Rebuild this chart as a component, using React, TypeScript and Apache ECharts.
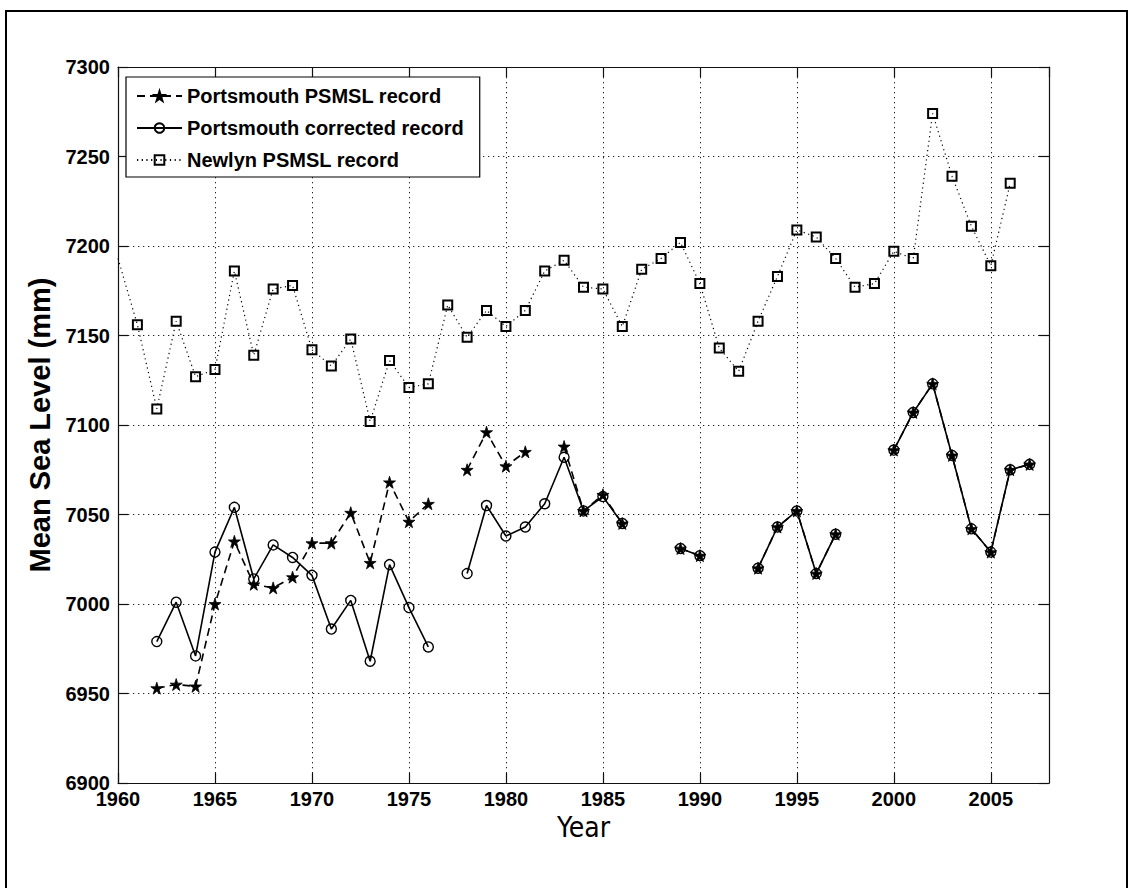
import React, { useEffect, useRef } from "react";
import * as echarts from "echarts";

const years = [
  1960, 1961, 1962, 1963, 1964, 1965, 1966, 1967, 1968, 1969,
  1970, 1971, 1972, 1973, 1974, 1975, 1976, 1977, 1978, 1979,
  1980, 1981, 1982, 1983, 1984, 1985, 1986, 1987, 1988, 1989,
  1990, 1991, 1992, 1993, 1994, 1995, 1996, 1997, 1998, 1999,
  2000, 2001, 2002, 2003, 2004, 2005, 2006, 2007,
];

const psmslValues: (number | null)[] = [
  null, null, 6953, 6955, 6954, 7000, 7035, 7011, 7009, 7015,
  7034, 7034, 7051, 7023, 7068, 7046, 7056, null, 7075, 7096,
  7077, 7085, null, 7088, 7052, 7061, 7045, null, null, 7031,
  7027, null, null, 7020, 7043, 7052, 7017, 7039, null, null,
  7086, 7107, 7123, 7083, 7042, 7029, 7075, 7078,
];

const correctedValues: (number | null)[] = [
  null, null, 6979, 7001, 6971, 7029, 7054, 7014, 7033, 7026,
  7016, 6986, 7002, 6968, 7022, 6998, 6976, null, 7017, 7055,
  7038, 7043, 7056, 7082, 7052, 7060, 7045, null, null, 7031,
  7027, null, null, 7020, 7043, 7052, 7017, 7039, null, null,
  7086, 7107, 7123, 7083, 7042, 7029, 7075, 7078,
];

const newlynValues: (number | null)[] = [
  7193, 7156, 7109, 7158, 7127, 7131, 7186, 7139, 7176, 7178,
  7142, 7133, 7148, 7102, 7136, 7121, 7123, 7167, 7149, 7164,
  7155, 7164, 7186, 7192, 7177, 7176, 7155, 7187, 7193, 7202,
  7179, 7143, 7130, 7158, 7183, 7209, 7205, 7193, 7177, 7179,
  7197, 7193, 7274, 7239, 7211, 7189, 7235, null,
];

const seriesNames = [
  "Portsmouth PSMSL record",
  "Portsmouth corrected record",
  "Newlyn PSMSL record",
];

const xMin = 1960;
const xMax = 2008;
const xStep = 5;
const yMin = 6900;
const yMax = 7300;
const yStep = 50;

const SANS = "'Liberation Sans', Arial, Helvetica, sans-serif";
const COND = "'DejaVu Sans Condensed', 'Liberation Sans', sans-serif";

const STAR =
  "path://M50,0 L61,35 L98,35 L68,57 L79,91 L50,70 L21,91 L32,57 L2,35 L39,35 Z";

function toData(vals: (number | null)[], hideFirstMarker = false) {
  return years.map((y, i) => {
    const v = vals[i];
    if (v == null) return [y, "-"];
    if (hideFirstMarker && i === 0) return { value: [y, v], symbol: "none" };
    return [y, v];
  });
}

export default function App() {
  const ref = useRef<HTMLDivElement>(null);
  useEffect(() => {
    document.body.style.margin = "0";
    const chart = echarts.init(ref.current!, null, { renderer: "svg" });
    const axisLine = { show: true, lineStyle: { color: "#111", width: 1.2 } };
    const gridLine = { show: true, lineStyle: { color: "#222", width: 1, type: [1.3, 3.7] } };
    const tickStyle = { show: true, inside: true, length: 10, lineStyle: { color: "#111", width: 1.2 } };
    const tickFont = { fontFamily: SANS, fontWeight: "bold", fontSize: 20, color: "#000" };
    chart.setOption({
      animation: false,
      backgroundColor: "#fff",
      grid: { left: 118, right: 80, top: 67, bottom: 105, containLabel: false },
      graphic: [
        {
          type: "rect",
          shape: { x: 6, y: 11, width: 1121, height: 895 },
          style: { fill: "none", stroke: "#000", lineWidth: 2 },
          silent: true,
        },
      ],
      xAxis: [
        {
          type: "value",
          min: xMin,
          max: xMax,
          interval: xStep,
          position: "bottom",
          axisLine,
          axisTick: tickStyle,
          splitLine: gridLine,
          axisLabel: { ...tickFont, margin: 6, showMaxLabel: false, formatter: (v: number) => String(v) },
          name: "Year",
          nameLocation: "middle",
          nameGap: 30,
          nameTextStyle: { fontFamily: COND, fontSize: 28, color: "#000" },
        },
        {
          type: "value",
          min: xMin,
          max: xMax,
          interval: xStep,
          position: "top",
          axisLine,
          axisTick: tickStyle,
          splitLine: { show: false },
          axisLabel: { show: false },
        },
      ],
      yAxis: [
        {
          type: "value",
          min: yMin,
          max: yMax,
          interval: yStep,
          position: "left",
          axisLine,
          axisTick: tickStyle,
          splitLine: gridLine,
          axisLabel: { ...tickFont, margin: 8, formatter: (v: number) => String(v) },
          name: "Mean Sea Level (mm)",
          nameLocation: "middle",
          nameRotate: 90,
          nameGap: 29,
          nameTextStyle: { fontFamily: SANS, fontWeight: "bold", fontSize: 29, color: "#000" },
        },
        {
          type: "value",
          min: yMin,
          max: yMax,
          interval: yStep,
          position: "right",
          axisLine,
          axisTick: tickStyle,
          splitLine: { show: false },
          axisLabel: { show: false },
        },
      ],
      legend: {
        orient: "vertical",
        left: 126,
        top: 77,
        itemWidth: 45,
        itemHeight: 12,
        itemGap: 12,
        padding: [9, 16, 7, 10],
        borderColor: "#000",
        borderWidth: 1.2,
        backgroundColor: "#fff",
        textStyle: { fontFamily: SANS, fontWeight: "bold", fontSize: 20, color: "#000" },
        data: seriesNames,
      },
      series: [
        {
          name: seriesNames[0],
          type: "line",
          xAxisIndex: 0,
          yAxisIndex: 0,
          data: toData(psmslValues),
          symbol: STAR,
          symbolSize: 12,
          showAllSymbol: true,
          connectNulls: false,
          lineStyle: { color: "#000", width: 1.6, type: [8, 5] },
          itemStyle: { color: "#000", borderColor: "#000", borderWidth: 0.8 },
        },
        {
          name: seriesNames[1],
          type: "line",
          xAxisIndex: 0,
          yAxisIndex: 0,
          data: toData(correctedValues),
          symbol: "circle",
          symbolSize: 10,
          showAllSymbol: true,
          connectNulls: false,
          lineStyle: { color: "#000", width: 1.6, type: "solid" },
          itemStyle: { color: "rgba(255,255,255,0)", borderColor: "#000", borderWidth: 1.4 },
        },
        {
          name: seriesNames[2],
          type: "line",
          xAxisIndex: 0,
          yAxisIndex: 0,
          data: toData(newlynValues, true),
          symbol: "rect",
          symbolSize: 9,
          showAllSymbol: true,
          connectNulls: false,
          lineStyle: { color: "#000", width: 1.2, type: [1.2, 3.5] },
          itemStyle: { color: "rgba(255,255,255,0)", borderColor: "#000", borderWidth: 2 },
        },
      ],
    });
    return () => chart.dispose();
  }, []);
  return (
    <div
      ref={ref}
      style={{ position: "absolute", left: 0, top: 0, width: 1129, height: 888, background: "#fff" }}
    />
  );
}
